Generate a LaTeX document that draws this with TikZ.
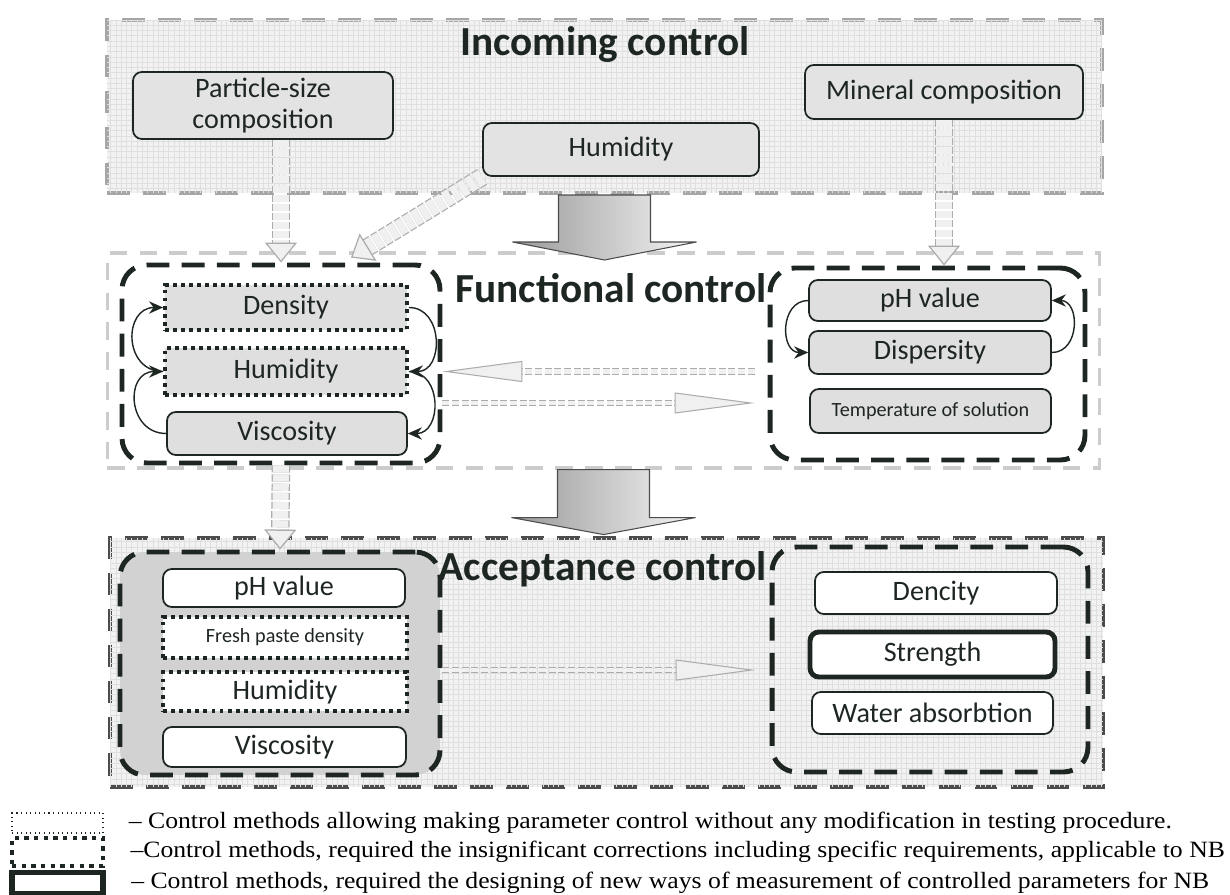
\documentclass[tikz,border=0pt]{standalone}
\usepackage{fontspec}
\setmainfont{Carlito}
\newfontfamily\legendfont[FakeStretch=1.1]{Liberation Serif}
\usetikzlibrary{positioning,calc,arrows.meta,patterns}

\definecolor{ink}{HTML}{1E2622}

\tikzset{
    stageframe/.style={draw=gray!70, line width=2.3pt, dash pattern=on 13pt off 7.5pt, inner sep=0pt},
    textured/.style={fill=gray!10, postaction={pattern=grid, pattern color=gray!25}},
    paramgroup/.style={draw=ink, line width=2.8pt, dash pattern=on 13pt off 7pt, rounded corners=14pt, inner sep=0pt},
    parambox/.style={draw=ink, line width=1pt, rounded corners=5pt, align=center, inner sep=0pt, text=ink, font=\fontsize{16}{18}\selectfont},
    dottedbox/.style={parambox, line width=2.2pt, dash pattern=on 2.2pt off 2.4pt, rounded corners=0pt},
    stagetitle/.style={font=\fontsize{23.5}{27}\selectfont\bfseries, text=ink},
    legendtext/.style={font=\legendfont\fontsize{13.3}{15}\selectfont, inner sep=0pt},
    cyc/.style={-{Stealth[length=8pt,width=7pt]}, line width=0.8pt, draw=ink},
    blockarrow/.style={left color=gray!80, right color=gray!8, draw=black!70, line width=0.6pt},
    hollowarrow/.style={draw=gray!65, line width=0.7pt, double=gray!12, double distance=0.32cm, dash pattern=on 4pt off 1.2pt, -{Triangle[length=0.4cm, width=0.64cm, fill=gray!12]}},
    hollowline/.style={draw=gray!65, line width=0.6pt, double=gray!12, double distance=2.5pt, dash pattern=on 4pt off 1.5pt, -{Triangle[length=1.6cm, width=0.42cm, fill=gray!12]}}
}

\begin{document}
\begin{tikzpicture}[x=0.02cm, y=-0.02cm]
    \useasboundingbox (0,0) rectangle (1230,895);

    % Incoming control
    \node[stageframe, textured, minimum width=19.9cm, minimum height=3.46cm] (inc) at (604.5,106.5) {};
    \node[stagetitle] (incT) at (605,45) {Incoming control};
    \node[parambox, fill=gray!22, minimum width=5.2cm, minimum height=1.34cm] (psc) at (263,105.5) {Particle-size\\composition};
    \node[parambox, fill=gray!22, minimum width=5.52cm, minimum height=1.06cm] (ihum) at (621,149.5) {Humidity};
    \node[parambox, fill=gray!22, minimum width=5.56cm, minimum height=1.08cm] (min) at (944,92) {Mineral composition};

    % Functional control
    \node[stageframe, draw=gray!40, line width=1.8pt, dash pattern=on 10pt off 7pt, fill=white, minimum width=19.86cm, minimum height=4.3cm] (fun) at (603.5,360.5) {};
    \node[stagetitle] (funT) at (611,288) {Functional control};
    \node[paramgroup, minimum width=6.36cm, minimum height=3.96cm] (flg) at (281,364) {};
    \node[dottedbox, fill=gray!25, minimum width=4.84cm, minimum height=0.9cm] (fden) at (286,307.5) {Density};
    \node[dottedbox, fill=gray!25, minimum width=4.84cm, minimum height=0.94cm] (fhum) at (286,371.5) {Humidity};
    \node[parambox, fill=gray!25, minimum width=4.8cm, minimum height=0.86cm] (fvis) at (287,433.5) {Viscosity};
    \node[paramgroup, minimum width=6.3cm, minimum height=3.84cm] (frg) at (927.5,364) {};
    \node[parambox, fill=gray!25, minimum width=4.84cm, minimum height=0.82cm] (fph) at (930,300.5) {pH value};
    \node[parambox, fill=gray!25, minimum width=4.84cm, minimum height=0.86cm] (fdis) at (930,352.5) {Dispersity};
    \node[parambox, fill=gray!25, minimum width=4.82cm, minimum height=0.88cm, font=\fontsize{11.5}{13}\selectfont] (ftem) at (930.5,411) {Temperature of solution};

    % Acceptance control
    \node[stageframe, draw=black!70, textured, minimum width=19.86cm, minimum height=4.98cm] (acc) at (606.5,662.5) {};
    \node[stagetitle] (accT) at (603,569) {Acceptance control};
    \node[paramgroup, fill=gray!35, minimum width=6.4cm, minimum height=4.46cm] (alg) at (280,663.5) {};
    \node[parambox, fill=white, minimum width=4.84cm, minimum height=0.76cm] (aph) at (284,588) {pH value};
    \node[dottedbox, fill=white, minimum width=4.88cm, minimum height=0.82cm, font=\fontsize{11.5}{13}\selectfont] (afr) at (285,637.5) {Fresh paste density};
    \node[dottedbox, fill=white, minimum width=4.88cm, minimum height=0.78cm] (ahum) at (285,691.5) {Humidity};
    \node[parambox, fill=white, minimum width=4.86cm, minimum height=0.8cm] (avis) at (284.5,747) {Viscosity};
    \node[paramgroup, minimum width=6.32cm, minimum height=4.5cm] (arg) at (930,659.5) {};
    \node[parambox, fill=white, minimum width=4.84cm, minimum height=0.84cm] (aden) at (936,593) {Dencity};
    \node[parambox, fill=white, line width=2.8pt, minimum width=4.9cm, minimum height=0.9cm] (astr) at (932.5,654.5) {Strength};
    \node[parambox, fill=white, minimum width=4.82cm, minimum height=0.84cm] (awat) at (932.5,713) {Water absorbtion};

    % Stage arrows
    \shadedraw[blockarrow] ($(inc.south)+(-46,0)$) -- ($(inc.south)+(46,0)$) -- ($(inc.south)+(46,47)$) -- ($(inc.south)+(92,47)$)
        -- ($(inc.south)+(0,65)$) -- ($(inc.south)+(-92,47)$) -- ($(inc.south)+(-46,47)$) -- cycle;
    \shadedraw[blockarrow] ($(fun.south)+(-46,0)$) -- ($(fun.south)+(46,0)$) -- ($(fun.south)+(46,48)$) -- ($(fun.south)+(92,48)$)
        -- ($(fun.south)+(0,65)$) -- ($(fun.south)+(-92,48)$) -- ($(fun.south)+(-46,48)$) -- cycle;

    % Parameter transfer
    \draw[hollowarrow] (psc.south -| flg.north) -- (flg.north);
    \draw[hollowarrow] (ihum.south west) -- ($(flg.north)+(70,-5)$);
    \draw[hollowarrow] (min.south) -- (min.south |- frg.north);
    \draw[hollowarrow] (flg.south) -- (alg.north);
    \draw[hollowline, shorten <=0.26cm] (frg.west |- fhum.east) -- (flg.east |- fhum.east);
    \draw[hollowline, shorten >=0.26cm] ($(flg.east)+(0,39)$) -- ($(frg.west)+(0,39)$);
    \draw[hollowline, shorten >=0.28cm] (alg.east |- ahum.north) -- (arg.west |- ahum.north);

    % Cycles
    \draw[cyc] (fhum.west) to[out=180, in=180, looseness=1.6] (fden.west);
    \draw[cyc] (fvis.west) to[out=180, in=180, looseness=1.6] (fhum.west);
    \draw[cyc] (fden.east) to[out=0, in=0, looseness=1.4] (fhum.east);
    \draw[cyc] (fhum.east) to[out=0, in=0, looseness=1.4] (fvis.east);
    \draw[cyc] (fph.west) to[out=180, in=180, looseness=1.4] (fdis.west);
    \draw[cyc] (fdis.east) to[out=0, in=0, looseness=1.4] (fph.east);

    % Legend
    \node[draw=ink, line width=0.6pt, dotted, minimum width=1.82cm, minimum height=0.4cm, inner sep=0pt] (leg1) at (57.5,823) {};
    \node[draw=ink, line width=2.5pt, dash pattern=on 2.5pt off 3pt, minimum width=1.82cm, minimum height=0.56cm, inner sep=0pt] (leg2) at (57.5,852) {};
    \node[draw=ink, line width=3.4pt, minimum width=1.82cm, minimum height=0.42cm, inner sep=0pt] (leg3) at (57.5,883) {};
    \node[legendtext, right=0.5cm of leg1] (leg1T) {– Control methods allowing making parameter control without any modification in testing procedure.};
    \node[legendtext, right=0.5cm of leg2] (leg2T) {–Control methods, required the insignificant corrections including specific requirements, applicable to NB};
    \node[legendtext, right=0.5cm of leg3] (leg3T) {– Control methods, required the designing of new ways of measurement of controlled parameters for NB};
\end{tikzpicture}
\end{document}
